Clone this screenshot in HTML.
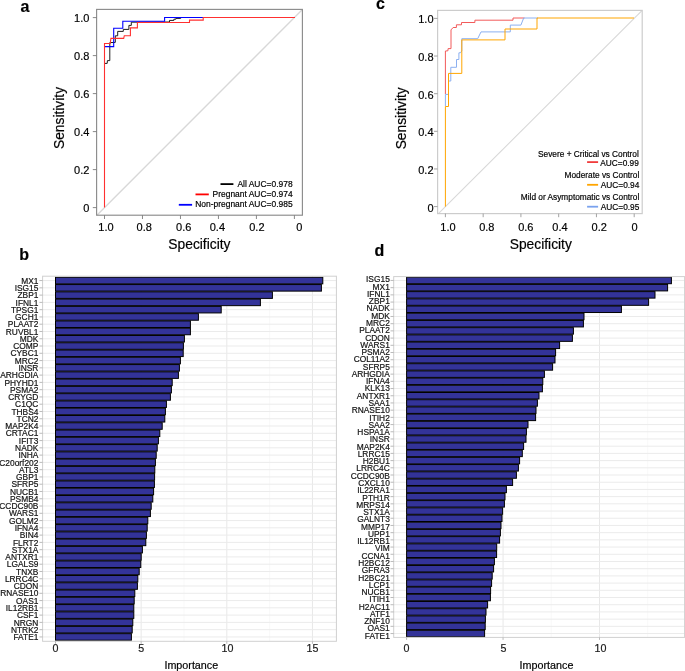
<!DOCTYPE html>
<html><head><meta charset="utf-8"><title>Figure</title>
<style>
html,body{margin:0;padding:0;background:#fff;}
body{width:685px;height:671px;overflow:hidden;}
svg{display:block;font-family:"Liberation Sans", sans-serif;will-change:transform;}
text{stroke:currentColor;stroke-width:0.18px;paint-order:stroke;}
</style></head>
<body>
<svg width="685" height="671" viewBox="0 0 685 671">
<rect x="0" y="0" width="685" height="671" fill="#fff"/>
<line x1="96.9" y1="215.2" x2="302.4" y2="9.6" stroke="#d8d8d8" stroke-width="1.35"/>
<polyline points="104.5,63.4 107.2,63.4 107.4,60.6 109.8,60.6 109.8,42.6 115.3,42.4 115.3,35.8 117.7,35.8 117.7,31.4 123.3,31.4 123.3,29.4 128.9,29.4 128.9,25.4 131.3,25.4 131.3,22.2 169.5,22 169.5,20.4 173.9,20.4 173.9,19.2 175.9,19.2 175.9,18.4 180.7,18.4 180.7,17.5 204,17.5" fill="none" stroke="#1e1e1e" stroke-width="1" stroke-opacity="1" stroke-linejoin="miter"/>
<polyline points="104.5,46.6 113.7,46.6 113.7,28.3 122.8,28.3 122.8,21.2 164.6,21.2 164.6,17.5 204,17.5" fill="none" stroke="#0000ff" stroke-width="1.1" stroke-opacity="1" stroke-linejoin="miter"/>
<polyline points="104.5,207.6 104.5,43.5 110.2,43.5 110.9,38.4 123.7,38.4 124.3,35.7 130.4,35.7 130.4,27.9 137.4,27.9 137.4,22.5 189.5,22.5 189.5,20.1 203.2,20.1 203.2,17.5 295,17.5" fill="none" stroke="#ff3030" stroke-width="1.1" stroke-opacity="1" stroke-linejoin="miter"/>
<rect x="96.6" y="9.4" width="205.8" height="205.8" fill="none" stroke="#8c8c8c" stroke-width="1.15"/>
<line x1="92.8" y1="207.6" x2="96.6" y2="207.6" stroke="#7c7c7c" stroke-width="0.9"/>
<text x="89.4" y="211.9" font-size="11" text-anchor="end" fill="#000" font-weight="normal">0</text>
<line x1="92.8" y1="169.6" x2="96.6" y2="169.6" stroke="#7c7c7c" stroke-width="0.9"/>
<text x="89.4" y="173.9" font-size="11" text-anchor="end" fill="#000" font-weight="normal">0.2</text>
<line x1="92.8" y1="131.6" x2="96.6" y2="131.6" stroke="#7c7c7c" stroke-width="0.9"/>
<text x="89.4" y="135.9" font-size="11" text-anchor="end" fill="#000" font-weight="normal">0.4</text>
<line x1="92.8" y1="93.6" x2="96.6" y2="93.6" stroke="#7c7c7c" stroke-width="0.9"/>
<text x="89.4" y="97.9" font-size="11" text-anchor="end" fill="#000" font-weight="normal">0.6</text>
<line x1="92.8" y1="55.6" x2="96.6" y2="55.6" stroke="#7c7c7c" stroke-width="0.9"/>
<text x="89.4" y="59.9" font-size="11" text-anchor="end" fill="#000" font-weight="normal">0.8</text>
<line x1="92.8" y1="17.6" x2="96.6" y2="17.6" stroke="#7c7c7c" stroke-width="0.9"/>
<text x="89.4" y="21.9" font-size="11" text-anchor="end" fill="#000" font-weight="normal">1.0</text>
<line x1="104.5" y1="215.2" x2="104.5" y2="219" stroke="#7c7c7c" stroke-width="0.9"/>
<text x="106" y="230.6" font-size="11" text-anchor="middle" fill="#000" font-weight="normal">1.0</text>
<line x1="142.48" y1="215.2" x2="142.48" y2="219" stroke="#7c7c7c" stroke-width="0.9"/>
<text x="144.2" y="230.6" font-size="11" text-anchor="middle" fill="#000" font-weight="normal">0.8</text>
<line x1="180.46" y1="215.2" x2="180.46" y2="219" stroke="#7c7c7c" stroke-width="0.9"/>
<text x="183.7" y="230.6" font-size="11" text-anchor="middle" fill="#000" font-weight="normal">0.6</text>
<line x1="218.44" y1="215.2" x2="218.44" y2="219" stroke="#7c7c7c" stroke-width="0.9"/>
<text x="217.4" y="230.6" font-size="11" text-anchor="middle" fill="#000" font-weight="normal">0.4</text>
<line x1="256.42" y1="215.2" x2="256.42" y2="219" stroke="#7c7c7c" stroke-width="0.9"/>
<text x="256.9" y="230.6" font-size="11" text-anchor="middle" fill="#000" font-weight="normal">0.2</text>
<line x1="294.4" y1="215.2" x2="294.4" y2="219" stroke="#7c7c7c" stroke-width="0.9"/>
<text x="299.4" y="230.6" font-size="11" text-anchor="middle" fill="#000" font-weight="normal">0</text>
<text x="199.4" y="249.2" font-size="13.8" text-anchor="middle" fill="#000" font-weight="normal">Specificity</text>
<text x="0" y="0" font-size="13.8" text-anchor="middle" fill="#000" transform="translate(63.9,118) rotate(-90)">Sensitivity</text>
<line x1="220.5" y1="184.1" x2="233.4" y2="184.1" stroke="#000000" stroke-width="1.8"/>
<text x="292.6" y="186.9" font-size="8.45" text-anchor="end" fill="#000" font-weight="normal">All AUC=0.978</text>
<line x1="195.5" y1="194.4" x2="208.8" y2="194.4" stroke="#ff0000" stroke-width="1.8"/>
<text x="292.6" y="196.9" font-size="8.45" text-anchor="end" fill="#000" font-weight="normal">Pregnant AUC=0.974</text>
<line x1="178.8" y1="204.8" x2="192.1" y2="204.8" stroke="#0000ff" stroke-width="1.8"/>
<text x="292.6" y="206.9" font-size="8.45" text-anchor="end" fill="#000" font-weight="normal">Non-pregnant AUC=0.985</text>
<text x="20.6" y="11.8" font-size="16" text-anchor="start" fill="#000" font-weight="bold">a</text>
<line x1="438.38" y1="213.6" x2="642.2" y2="10.43" stroke="#d8d8d8" stroke-width="1.15"/>
<polyline points="445.4,94 445.4,51 447.9,50.8 448.1,48.6 451,48.6 451,29.9 453.1,27.5 456.4,27.5 456.4,24.8 461.5,24.8 461.5,22.5 474.9,22.5 474.9,20.2 513,20.2 513,18 524.5,18" fill="none" stroke="#f25a5a" stroke-width="1" stroke-opacity="1" stroke-linejoin="miter"/>
<polyline points="445.4,106.2 445.4,94.4 448.5,94.4 448.5,81 450.8,81 450.8,67.3 456.5,67.3 456.5,59.5 458.9,59.5 458.9,52.8 460.3,52.8 461.8,51 461.8,38.7 477.7,38.7 481,31.9 510.3,31.9 510.3,25.1 520.9,25.1 523.7,18 538,18" fill="none" stroke="#8cb0f0" stroke-width="1" stroke-opacity="1" stroke-linejoin="miter"/>
<polyline points="445.4,206.6 445.4,106.5 448.5,106.5 448.5,73.4 461.8,73.4 461.8,39.9 505,39.9 505,29 537,29 537,18 634,18" fill="none" stroke="#ffa500" stroke-width="1" stroke-opacity="1" stroke-linejoin="miter"/>
<rect x="437.6" y="10.4" width="204.6" height="203.2" fill="none" stroke="#cccccc" stroke-width="1.2"/>
<line x1="434" y1="206.6" x2="437.6" y2="206.6" stroke="#999999" stroke-width="0.9"/>
<text x="433.5" y="211.5" font-size="11" text-anchor="end" fill="#000" font-weight="normal">0</text>
<line x1="434" y1="168.96" x2="437.6" y2="168.96" stroke="#999999" stroke-width="0.9"/>
<text x="433.5" y="173.86" font-size="11" text-anchor="end" fill="#000" font-weight="normal">0.2</text>
<line x1="434" y1="131.32" x2="437.6" y2="131.32" stroke="#999999" stroke-width="0.9"/>
<text x="433.5" y="136.22" font-size="11" text-anchor="end" fill="#000" font-weight="normal">0.4</text>
<line x1="434" y1="93.68" x2="437.6" y2="93.68" stroke="#999999" stroke-width="0.9"/>
<text x="433.5" y="98.58" font-size="11" text-anchor="end" fill="#000" font-weight="normal">0.6</text>
<line x1="434" y1="56.04" x2="437.6" y2="56.04" stroke="#999999" stroke-width="0.9"/>
<text x="433.5" y="60.94" font-size="11" text-anchor="end" fill="#000" font-weight="normal">0.8</text>
<line x1="434" y1="18.4" x2="437.6" y2="18.4" stroke="#999999" stroke-width="0.9"/>
<text x="433.5" y="23.3" font-size="11" text-anchor="end" fill="#000" font-weight="normal">1.0</text>
<line x1="445.4" y1="213.6" x2="445.4" y2="217.2" stroke="#999999" stroke-width="0.9"/>
<text x="448" y="230.5" font-size="11" text-anchor="middle" fill="#000" font-weight="normal">1.0</text>
<line x1="483.16" y1="213.6" x2="483.16" y2="217.2" stroke="#999999" stroke-width="0.9"/>
<text x="486.8" y="230.5" font-size="11" text-anchor="middle" fill="#000" font-weight="normal">0.8</text>
<line x1="520.92" y1="213.6" x2="520.92" y2="217.2" stroke="#999999" stroke-width="0.9"/>
<text x="525.8" y="230.5" font-size="11" text-anchor="middle" fill="#000" font-weight="normal">0.6</text>
<line x1="558.68" y1="213.6" x2="558.68" y2="217.2" stroke="#999999" stroke-width="0.9"/>
<text x="560" y="230.5" font-size="11" text-anchor="middle" fill="#000" font-weight="normal">0.4</text>
<line x1="596.44" y1="213.6" x2="596.44" y2="217.2" stroke="#999999" stroke-width="0.9"/>
<text x="599.2" y="230.5" font-size="11" text-anchor="middle" fill="#000" font-weight="normal">0.2</text>
<line x1="634.2" y1="213.6" x2="634.2" y2="217.2" stroke="#999999" stroke-width="0.9"/>
<text x="634.5" y="230.5" font-size="11" text-anchor="middle" fill="#000" font-weight="normal">0</text>
<text x="540.8" y="249.2" font-size="13.8" text-anchor="middle" fill="#000" font-weight="normal">Specificity</text>
<text x="0" y="0" font-size="13.8" text-anchor="middle" fill="#000" transform="translate(405.9,118.3) rotate(-90)">Sensitivity</text>
<text x="638.8" y="156.8" font-size="8.3" text-anchor="end" fill="#000" font-weight="normal">Severe + Critical vs Control</text>
<line x1="587.1" y1="162.1" x2="598.1" y2="162.1" stroke="#f03c3c" stroke-width="1.8"/>
<text x="638.8" y="166.4" font-size="8.3" text-anchor="end" fill="#000" font-weight="normal">AUC=0.99</text>
<text x="639.3" y="178.3" font-size="8.3" text-anchor="end" fill="#000" font-weight="normal">Moderate vs Control</text>
<line x1="587.1" y1="184.8" x2="598.1" y2="184.8" stroke="#ffa500" stroke-width="1.8"/>
<text x="639.3" y="188.4" font-size="8.3" text-anchor="end" fill="#000" font-weight="normal">AUC=0.94</text>
<text x="639.3" y="199.7" font-size="8.3" text-anchor="end" fill="#000" font-weight="normal">Mild or Asymptomatic vs Control</text>
<line x1="587.1" y1="206.7" x2="598.1" y2="206.7" stroke="#7aa2ee" stroke-width="1.8"/>
<text x="639.3" y="209.6" font-size="8.3" text-anchor="end" fill="#000" font-weight="normal">AUC=0.95</text>
<text x="376" y="9.2" font-size="16" text-anchor="start" fill="#000" font-weight="bold">c</text>
<rect x="42.6" y="276.2" width="293.8" height="365.1" fill="#fff"/>
<line x1="98.32" y1="276.2" x2="98.32" y2="641.3" stroke="#f3f3f3" stroke-width="0.55"/>
<line x1="183.97" y1="276.2" x2="183.97" y2="641.3" stroke="#f3f3f3" stroke-width="0.55"/>
<line x1="269.62" y1="276.2" x2="269.62" y2="641.3" stroke="#f3f3f3" stroke-width="0.55"/>
<line x1="55.5" y1="276.2" x2="55.5" y2="641.3" stroke="#e8e8e8" stroke-width="1"/>
<line x1="141.15" y1="276.2" x2="141.15" y2="641.3" stroke="#e8e8e8" stroke-width="1"/>
<line x1="226.8" y1="276.2" x2="226.8" y2="641.3" stroke="#e8e8e8" stroke-width="1"/>
<line x1="312.45" y1="276.2" x2="312.45" y2="641.3" stroke="#e8e8e8" stroke-width="1"/>
<line x1="42.6" y1="280.56" x2="336.4" y2="280.56" stroke="#ebebeb" stroke-width="1"/>
<line x1="42.6" y1="287.84" x2="336.4" y2="287.84" stroke="#ebebeb" stroke-width="1"/>
<line x1="42.6" y1="295.11" x2="336.4" y2="295.11" stroke="#ebebeb" stroke-width="1"/>
<line x1="42.6" y1="302.38" x2="336.4" y2="302.38" stroke="#ebebeb" stroke-width="1"/>
<line x1="42.6" y1="309.66" x2="336.4" y2="309.66" stroke="#ebebeb" stroke-width="1"/>
<line x1="42.6" y1="316.93" x2="336.4" y2="316.93" stroke="#ebebeb" stroke-width="1"/>
<line x1="42.6" y1="324.2" x2="336.4" y2="324.2" stroke="#ebebeb" stroke-width="1"/>
<line x1="42.6" y1="331.47" x2="336.4" y2="331.47" stroke="#ebebeb" stroke-width="1"/>
<line x1="42.6" y1="338.75" x2="336.4" y2="338.75" stroke="#ebebeb" stroke-width="1"/>
<line x1="42.6" y1="346.02" x2="336.4" y2="346.02" stroke="#ebebeb" stroke-width="1"/>
<line x1="42.6" y1="353.29" x2="336.4" y2="353.29" stroke="#ebebeb" stroke-width="1"/>
<line x1="42.6" y1="360.57" x2="336.4" y2="360.57" stroke="#ebebeb" stroke-width="1"/>
<line x1="42.6" y1="367.84" x2="336.4" y2="367.84" stroke="#ebebeb" stroke-width="1"/>
<line x1="42.6" y1="375.11" x2="336.4" y2="375.11" stroke="#ebebeb" stroke-width="1"/>
<line x1="42.6" y1="382.38" x2="336.4" y2="382.38" stroke="#ebebeb" stroke-width="1"/>
<line x1="42.6" y1="389.66" x2="336.4" y2="389.66" stroke="#ebebeb" stroke-width="1"/>
<line x1="42.6" y1="396.93" x2="336.4" y2="396.93" stroke="#ebebeb" stroke-width="1"/>
<line x1="42.6" y1="404.2" x2="336.4" y2="404.2" stroke="#ebebeb" stroke-width="1"/>
<line x1="42.6" y1="411.48" x2="336.4" y2="411.48" stroke="#ebebeb" stroke-width="1"/>
<line x1="42.6" y1="418.75" x2="336.4" y2="418.75" stroke="#ebebeb" stroke-width="1"/>
<line x1="42.6" y1="426.02" x2="336.4" y2="426.02" stroke="#ebebeb" stroke-width="1"/>
<line x1="42.6" y1="433.29" x2="336.4" y2="433.29" stroke="#ebebeb" stroke-width="1"/>
<line x1="42.6" y1="440.57" x2="336.4" y2="440.57" stroke="#ebebeb" stroke-width="1"/>
<line x1="42.6" y1="447.84" x2="336.4" y2="447.84" stroke="#ebebeb" stroke-width="1"/>
<line x1="42.6" y1="455.11" x2="336.4" y2="455.11" stroke="#ebebeb" stroke-width="1"/>
<line x1="42.6" y1="462.39" x2="336.4" y2="462.39" stroke="#ebebeb" stroke-width="1"/>
<line x1="42.6" y1="469.66" x2="336.4" y2="469.66" stroke="#ebebeb" stroke-width="1"/>
<line x1="42.6" y1="476.93" x2="336.4" y2="476.93" stroke="#ebebeb" stroke-width="1"/>
<line x1="42.6" y1="484.21" x2="336.4" y2="484.21" stroke="#ebebeb" stroke-width="1"/>
<line x1="42.6" y1="491.48" x2="336.4" y2="491.48" stroke="#ebebeb" stroke-width="1"/>
<line x1="42.6" y1="498.75" x2="336.4" y2="498.75" stroke="#ebebeb" stroke-width="1"/>
<line x1="42.6" y1="506.02" x2="336.4" y2="506.02" stroke="#ebebeb" stroke-width="1"/>
<line x1="42.6" y1="513.3" x2="336.4" y2="513.3" stroke="#ebebeb" stroke-width="1"/>
<line x1="42.6" y1="520.57" x2="336.4" y2="520.57" stroke="#ebebeb" stroke-width="1"/>
<line x1="42.6" y1="527.84" x2="336.4" y2="527.84" stroke="#ebebeb" stroke-width="1"/>
<line x1="42.6" y1="535.12" x2="336.4" y2="535.12" stroke="#ebebeb" stroke-width="1"/>
<line x1="42.6" y1="542.39" x2="336.4" y2="542.39" stroke="#ebebeb" stroke-width="1"/>
<line x1="42.6" y1="549.66" x2="336.4" y2="549.66" stroke="#ebebeb" stroke-width="1"/>
<line x1="42.6" y1="556.93" x2="336.4" y2="556.93" stroke="#ebebeb" stroke-width="1"/>
<line x1="42.6" y1="564.21" x2="336.4" y2="564.21" stroke="#ebebeb" stroke-width="1"/>
<line x1="42.6" y1="571.48" x2="336.4" y2="571.48" stroke="#ebebeb" stroke-width="1"/>
<line x1="42.6" y1="578.75" x2="336.4" y2="578.75" stroke="#ebebeb" stroke-width="1"/>
<line x1="42.6" y1="586.03" x2="336.4" y2="586.03" stroke="#ebebeb" stroke-width="1"/>
<line x1="42.6" y1="593.3" x2="336.4" y2="593.3" stroke="#ebebeb" stroke-width="1"/>
<line x1="42.6" y1="600.57" x2="336.4" y2="600.57" stroke="#ebebeb" stroke-width="1"/>
<line x1="42.6" y1="607.84" x2="336.4" y2="607.84" stroke="#ebebeb" stroke-width="1"/>
<line x1="42.6" y1="615.12" x2="336.4" y2="615.12" stroke="#ebebeb" stroke-width="1"/>
<line x1="42.6" y1="622.39" x2="336.4" y2="622.39" stroke="#ebebeb" stroke-width="1"/>
<line x1="42.6" y1="629.66" x2="336.4" y2="629.66" stroke="#ebebeb" stroke-width="1"/>
<line x1="42.6" y1="636.94" x2="336.4" y2="636.94" stroke="#ebebeb" stroke-width="1"/>
<rect x="55.5" y="277.29" width="267.3" height="6.55" fill="#333399" stroke="#000" stroke-width="1"/>
<rect x="55.5" y="284.56" width="265.9" height="6.55" fill="#333399" stroke="#000" stroke-width="1"/>
<rect x="55.5" y="291.84" width="216.9" height="6.55" fill="#333399" stroke="#000" stroke-width="1"/>
<rect x="55.5" y="299.11" width="204.9" height="6.55" fill="#333399" stroke="#000" stroke-width="1"/>
<rect x="55.5" y="306.38" width="165.7" height="6.55" fill="#333399" stroke="#000" stroke-width="1"/>
<rect x="55.5" y="313.66" width="142.9" height="6.55" fill="#333399" stroke="#000" stroke-width="1"/>
<rect x="55.5" y="320.93" width="134.9" height="6.55" fill="#333399" stroke="#000" stroke-width="1"/>
<rect x="55.5" y="328.2" width="134.9" height="6.55" fill="#333399" stroke="#000" stroke-width="1"/>
<rect x="55.5" y="335.47" width="128.9" height="6.55" fill="#333399" stroke="#000" stroke-width="1"/>
<rect x="55.5" y="342.75" width="127.9" height="6.55" fill="#333399" stroke="#000" stroke-width="1"/>
<rect x="55.5" y="350.02" width="127.7" height="6.55" fill="#333399" stroke="#000" stroke-width="1"/>
<rect x="55.5" y="357.29" width="124.9" height="6.55" fill="#333399" stroke="#000" stroke-width="1"/>
<rect x="55.5" y="364.57" width="123.9" height="6.55" fill="#333399" stroke="#000" stroke-width="1"/>
<rect x="55.5" y="371.84" width="122.9" height="6.55" fill="#333399" stroke="#000" stroke-width="1"/>
<rect x="55.5" y="379.11" width="116.7" height="6.55" fill="#333399" stroke="#000" stroke-width="1"/>
<rect x="55.5" y="386.38" width="115.9" height="6.55" fill="#333399" stroke="#000" stroke-width="1"/>
<rect x="55.5" y="393.66" width="114.9" height="6.55" fill="#333399" stroke="#000" stroke-width="1"/>
<rect x="55.5" y="400.93" width="110.9" height="6.55" fill="#333399" stroke="#000" stroke-width="1"/>
<rect x="55.5" y="408.2" width="109.9" height="6.55" fill="#333399" stroke="#000" stroke-width="1"/>
<rect x="55.5" y="415.48" width="109.3" height="6.55" fill="#333399" stroke="#000" stroke-width="1"/>
<rect x="55.5" y="422.75" width="106.7" height="6.55" fill="#333399" stroke="#000" stroke-width="1"/>
<rect x="55.5" y="430.02" width="104.3" height="6.55" fill="#333399" stroke="#000" stroke-width="1"/>
<rect x="55.5" y="437.29" width="102.9" height="6.55" fill="#333399" stroke="#000" stroke-width="1"/>
<rect x="55.5" y="444.57" width="101.7" height="6.55" fill="#333399" stroke="#000" stroke-width="1"/>
<rect x="55.5" y="451.84" width="100.7" height="6.55" fill="#333399" stroke="#000" stroke-width="1"/>
<rect x="55.5" y="459.11" width="99.9" height="6.55" fill="#333399" stroke="#000" stroke-width="1"/>
<rect x="55.5" y="466.39" width="99.3" height="6.55" fill="#333399" stroke="#000" stroke-width="1"/>
<rect x="55.5" y="473.66" width="99.1" height="6.55" fill="#333399" stroke="#000" stroke-width="1"/>
<rect x="55.5" y="480.93" width="98.9" height="6.55" fill="#333399" stroke="#000" stroke-width="1"/>
<rect x="55.5" y="488.21" width="98.1" height="6.55" fill="#333399" stroke="#000" stroke-width="1"/>
<rect x="55.5" y="495.48" width="97.3" height="6.55" fill="#333399" stroke="#000" stroke-width="1"/>
<rect x="55.5" y="502.75" width="95.7" height="6.55" fill="#333399" stroke="#000" stroke-width="1"/>
<rect x="55.5" y="510.02" width="94.9" height="6.55" fill="#333399" stroke="#000" stroke-width="1"/>
<rect x="55.5" y="517.3" width="92.3" height="6.55" fill="#333399" stroke="#000" stroke-width="1"/>
<rect x="55.5" y="524.57" width="91.7" height="6.55" fill="#333399" stroke="#000" stroke-width="1"/>
<rect x="55.5" y="531.84" width="90.9" height="6.55" fill="#333399" stroke="#000" stroke-width="1"/>
<rect x="55.5" y="539.12" width="90.3" height="6.55" fill="#333399" stroke="#000" stroke-width="1"/>
<rect x="55.5" y="546.39" width="86.9" height="6.55" fill="#333399" stroke="#000" stroke-width="1"/>
<rect x="55.5" y="553.66" width="85.7" height="6.55" fill="#333399" stroke="#000" stroke-width="1"/>
<rect x="55.5" y="560.93" width="85.3" height="6.55" fill="#333399" stroke="#000" stroke-width="1"/>
<rect x="55.5" y="568.21" width="83.7" height="6.55" fill="#333399" stroke="#000" stroke-width="1"/>
<rect x="55.5" y="575.48" width="82.3" height="6.55" fill="#333399" stroke="#000" stroke-width="1"/>
<rect x="55.5" y="582.75" width="81.9" height="6.55" fill="#333399" stroke="#000" stroke-width="1"/>
<rect x="55.5" y="590.03" width="79.3" height="6.55" fill="#333399" stroke="#000" stroke-width="1"/>
<rect x="55.5" y="597.3" width="78.7" height="6.55" fill="#333399" stroke="#000" stroke-width="1"/>
<rect x="55.5" y="604.57" width="78.3" height="6.55" fill="#333399" stroke="#000" stroke-width="1"/>
<rect x="55.5" y="611.84" width="78.3" height="6.55" fill="#333399" stroke="#000" stroke-width="1"/>
<rect x="55.5" y="619.12" width="77.3" height="6.55" fill="#333399" stroke="#000" stroke-width="1"/>
<rect x="55.5" y="626.39" width="76.7" height="6.55" fill="#333399" stroke="#000" stroke-width="1"/>
<rect x="55.5" y="633.66" width="75.9" height="6.55" fill="#333399" stroke="#000" stroke-width="1"/>
<rect x="42.6" y="276.2" width="293.8" height="365.1" fill="none" stroke="#d0d0d0" stroke-width="1"/>
<line x1="39.4" y1="280.56" x2="42.6" y2="280.56" stroke="#b3b3b3" stroke-width="0.9"/>
<text x="38.4" y="283.71" font-size="8.4" text-anchor="end" fill="#141414" font-weight="normal">MX1</text>
<line x1="39.4" y1="287.84" x2="42.6" y2="287.84" stroke="#b3b3b3" stroke-width="0.9"/>
<text x="38.4" y="290.99" font-size="8.4" text-anchor="end" fill="#141414" font-weight="normal">ISG15</text>
<line x1="39.4" y1="295.11" x2="42.6" y2="295.11" stroke="#b3b3b3" stroke-width="0.9"/>
<text x="38.4" y="298.26" font-size="8.4" text-anchor="end" fill="#141414" font-weight="normal">ZBP1</text>
<line x1="39.4" y1="302.38" x2="42.6" y2="302.38" stroke="#b3b3b3" stroke-width="0.9"/>
<text x="38.4" y="305.53" font-size="8.4" text-anchor="end" fill="#141414" font-weight="normal">IFNL1</text>
<line x1="39.4" y1="309.66" x2="42.6" y2="309.66" stroke="#b3b3b3" stroke-width="0.9"/>
<text x="38.4" y="312.81" font-size="8.4" text-anchor="end" fill="#141414" font-weight="normal">TPSG1</text>
<line x1="39.4" y1="316.93" x2="42.6" y2="316.93" stroke="#b3b3b3" stroke-width="0.9"/>
<text x="38.4" y="320.08" font-size="8.4" text-anchor="end" fill="#141414" font-weight="normal">GCH1</text>
<line x1="39.4" y1="324.2" x2="42.6" y2="324.2" stroke="#b3b3b3" stroke-width="0.9"/>
<text x="38.4" y="327.35" font-size="8.4" text-anchor="end" fill="#141414" font-weight="normal">PLAAT2</text>
<line x1="39.4" y1="331.47" x2="42.6" y2="331.47" stroke="#b3b3b3" stroke-width="0.9"/>
<text x="38.4" y="334.62" font-size="8.4" text-anchor="end" fill="#141414" font-weight="normal">RUVBL1</text>
<line x1="39.4" y1="338.75" x2="42.6" y2="338.75" stroke="#b3b3b3" stroke-width="0.9"/>
<text x="38.4" y="341.9" font-size="8.4" text-anchor="end" fill="#141414" font-weight="normal">MDK</text>
<line x1="39.4" y1="346.02" x2="42.6" y2="346.02" stroke="#b3b3b3" stroke-width="0.9"/>
<text x="38.4" y="349.17" font-size="8.4" text-anchor="end" fill="#141414" font-weight="normal">COMP</text>
<line x1="39.4" y1="353.29" x2="42.6" y2="353.29" stroke="#b3b3b3" stroke-width="0.9"/>
<text x="38.4" y="356.44" font-size="8.4" text-anchor="end" fill="#141414" font-weight="normal">CYBC1</text>
<line x1="39.4" y1="360.57" x2="42.6" y2="360.57" stroke="#b3b3b3" stroke-width="0.9"/>
<text x="38.4" y="363.72" font-size="8.4" text-anchor="end" fill="#141414" font-weight="normal">MRC2</text>
<line x1="39.4" y1="367.84" x2="42.6" y2="367.84" stroke="#b3b3b3" stroke-width="0.9"/>
<text x="38.4" y="370.99" font-size="8.4" text-anchor="end" fill="#141414" font-weight="normal">INSR</text>
<line x1="39.4" y1="375.11" x2="42.6" y2="375.11" stroke="#b3b3b3" stroke-width="0.9"/>
<text x="38.4" y="378.26" font-size="8.4" text-anchor="end" fill="#141414" font-weight="normal">ARHGDIA</text>
<line x1="39.4" y1="382.38" x2="42.6" y2="382.38" stroke="#b3b3b3" stroke-width="0.9"/>
<text x="38.4" y="385.53" font-size="8.4" text-anchor="end" fill="#141414" font-weight="normal">PHYHD1</text>
<line x1="39.4" y1="389.66" x2="42.6" y2="389.66" stroke="#b3b3b3" stroke-width="0.9"/>
<text x="38.4" y="392.81" font-size="8.4" text-anchor="end" fill="#141414" font-weight="normal">PSMA2</text>
<line x1="39.4" y1="396.93" x2="42.6" y2="396.93" stroke="#b3b3b3" stroke-width="0.9"/>
<text x="38.4" y="400.08" font-size="8.4" text-anchor="end" fill="#141414" font-weight="normal">CRYGD</text>
<line x1="39.4" y1="404.2" x2="42.6" y2="404.2" stroke="#b3b3b3" stroke-width="0.9"/>
<text x="38.4" y="407.35" font-size="8.4" text-anchor="end" fill="#141414" font-weight="normal">C1QC</text>
<line x1="39.4" y1="411.48" x2="42.6" y2="411.48" stroke="#b3b3b3" stroke-width="0.9"/>
<text x="38.4" y="414.63" font-size="8.4" text-anchor="end" fill="#141414" font-weight="normal">THBS4</text>
<line x1="39.4" y1="418.75" x2="42.6" y2="418.75" stroke="#b3b3b3" stroke-width="0.9"/>
<text x="38.4" y="421.9" font-size="8.4" text-anchor="end" fill="#141414" font-weight="normal">TCN2</text>
<line x1="39.4" y1="426.02" x2="42.6" y2="426.02" stroke="#b3b3b3" stroke-width="0.9"/>
<text x="38.4" y="429.17" font-size="8.4" text-anchor="end" fill="#141414" font-weight="normal">MAP2K4</text>
<line x1="39.4" y1="433.29" x2="42.6" y2="433.29" stroke="#b3b3b3" stroke-width="0.9"/>
<text x="38.4" y="436.44" font-size="8.4" text-anchor="end" fill="#141414" font-weight="normal">CRTAC1</text>
<line x1="39.4" y1="440.57" x2="42.6" y2="440.57" stroke="#b3b3b3" stroke-width="0.9"/>
<text x="38.4" y="443.72" font-size="8.4" text-anchor="end" fill="#141414" font-weight="normal">IFIT3</text>
<line x1="39.4" y1="447.84" x2="42.6" y2="447.84" stroke="#b3b3b3" stroke-width="0.9"/>
<text x="38.4" y="450.99" font-size="8.4" text-anchor="end" fill="#141414" font-weight="normal">NADK</text>
<line x1="39.4" y1="455.11" x2="42.6" y2="455.11" stroke="#b3b3b3" stroke-width="0.9"/>
<text x="38.4" y="458.26" font-size="8.4" text-anchor="end" fill="#141414" font-weight="normal">INHA</text>
<line x1="39.4" y1="462.39" x2="42.6" y2="462.39" stroke="#b3b3b3" stroke-width="0.9"/>
<text x="38.4" y="465.54" font-size="8.4" text-anchor="end" fill="#141414" font-weight="normal">C20orf202</text>
<line x1="39.4" y1="469.66" x2="42.6" y2="469.66" stroke="#b3b3b3" stroke-width="0.9"/>
<text x="38.4" y="472.81" font-size="8.4" text-anchor="end" fill="#141414" font-weight="normal">ATL3</text>
<line x1="39.4" y1="476.93" x2="42.6" y2="476.93" stroke="#b3b3b3" stroke-width="0.9"/>
<text x="38.4" y="480.08" font-size="8.4" text-anchor="end" fill="#141414" font-weight="normal">GBP1</text>
<line x1="39.4" y1="484.21" x2="42.6" y2="484.21" stroke="#b3b3b3" stroke-width="0.9"/>
<text x="38.4" y="487.36" font-size="8.4" text-anchor="end" fill="#141414" font-weight="normal">SFRP5</text>
<line x1="39.4" y1="491.48" x2="42.6" y2="491.48" stroke="#b3b3b3" stroke-width="0.9"/>
<text x="38.4" y="494.63" font-size="8.4" text-anchor="end" fill="#141414" font-weight="normal">NUCB1</text>
<line x1="39.4" y1="498.75" x2="42.6" y2="498.75" stroke="#b3b3b3" stroke-width="0.9"/>
<text x="38.4" y="501.9" font-size="8.4" text-anchor="end" fill="#141414" font-weight="normal">PSMB4</text>
<line x1="39.4" y1="506.02" x2="42.6" y2="506.02" stroke="#b3b3b3" stroke-width="0.9"/>
<text x="38.4" y="509.17" font-size="8.4" text-anchor="end" fill="#141414" font-weight="normal">CCDC90B</text>
<line x1="39.4" y1="513.3" x2="42.6" y2="513.3" stroke="#b3b3b3" stroke-width="0.9"/>
<text x="38.4" y="516.45" font-size="8.4" text-anchor="end" fill="#141414" font-weight="normal">WARS1</text>
<line x1="39.4" y1="520.57" x2="42.6" y2="520.57" stroke="#b3b3b3" stroke-width="0.9"/>
<text x="38.4" y="523.72" font-size="8.4" text-anchor="end" fill="#141414" font-weight="normal">GOLM2</text>
<line x1="39.4" y1="527.84" x2="42.6" y2="527.84" stroke="#b3b3b3" stroke-width="0.9"/>
<text x="38.4" y="530.99" font-size="8.4" text-anchor="end" fill="#141414" font-weight="normal">IFNA4</text>
<line x1="39.4" y1="535.12" x2="42.6" y2="535.12" stroke="#b3b3b3" stroke-width="0.9"/>
<text x="38.4" y="538.27" font-size="8.4" text-anchor="end" fill="#141414" font-weight="normal">BIN4</text>
<line x1="39.4" y1="542.39" x2="42.6" y2="542.39" stroke="#b3b3b3" stroke-width="0.9"/>
<text x="38.4" y="545.54" font-size="8.4" text-anchor="end" fill="#141414" font-weight="normal">FLRT2</text>
<line x1="39.4" y1="549.66" x2="42.6" y2="549.66" stroke="#b3b3b3" stroke-width="0.9"/>
<text x="38.4" y="552.81" font-size="8.4" text-anchor="end" fill="#141414" font-weight="normal">STX1A</text>
<line x1="39.4" y1="556.93" x2="42.6" y2="556.93" stroke="#b3b3b3" stroke-width="0.9"/>
<text x="38.4" y="560.08" font-size="8.4" text-anchor="end" fill="#141414" font-weight="normal">ANTXR1</text>
<line x1="39.4" y1="564.21" x2="42.6" y2="564.21" stroke="#b3b3b3" stroke-width="0.9"/>
<text x="38.4" y="567.36" font-size="8.4" text-anchor="end" fill="#141414" font-weight="normal">LGALS9</text>
<line x1="39.4" y1="571.48" x2="42.6" y2="571.48" stroke="#b3b3b3" stroke-width="0.9"/>
<text x="38.4" y="574.63" font-size="8.4" text-anchor="end" fill="#141414" font-weight="normal">TNXB</text>
<line x1="39.4" y1="578.75" x2="42.6" y2="578.75" stroke="#b3b3b3" stroke-width="0.9"/>
<text x="38.4" y="581.9" font-size="8.4" text-anchor="end" fill="#141414" font-weight="normal">LRRC4C</text>
<line x1="39.4" y1="586.03" x2="42.6" y2="586.03" stroke="#b3b3b3" stroke-width="0.9"/>
<text x="38.4" y="589.18" font-size="8.4" text-anchor="end" fill="#141414" font-weight="normal">CDON</text>
<line x1="39.4" y1="593.3" x2="42.6" y2="593.3" stroke="#b3b3b3" stroke-width="0.9"/>
<text x="38.4" y="596.45" font-size="8.4" text-anchor="end" fill="#141414" font-weight="normal">RNASE10</text>
<line x1="39.4" y1="600.57" x2="42.6" y2="600.57" stroke="#b3b3b3" stroke-width="0.9"/>
<text x="38.4" y="603.72" font-size="8.4" text-anchor="end" fill="#141414" font-weight="normal">OAS1</text>
<line x1="39.4" y1="607.84" x2="42.6" y2="607.84" stroke="#b3b3b3" stroke-width="0.9"/>
<text x="38.4" y="610.99" font-size="8.4" text-anchor="end" fill="#141414" font-weight="normal">IL12RB1</text>
<line x1="39.4" y1="615.12" x2="42.6" y2="615.12" stroke="#b3b3b3" stroke-width="0.9"/>
<text x="38.4" y="618.27" font-size="8.4" text-anchor="end" fill="#141414" font-weight="normal">CSF1</text>
<line x1="39.4" y1="622.39" x2="42.6" y2="622.39" stroke="#b3b3b3" stroke-width="0.9"/>
<text x="38.4" y="625.54" font-size="8.4" text-anchor="end" fill="#141414" font-weight="normal">NRGN</text>
<line x1="39.4" y1="629.66" x2="42.6" y2="629.66" stroke="#b3b3b3" stroke-width="0.9"/>
<text x="38.4" y="632.81" font-size="8.4" text-anchor="end" fill="#141414" font-weight="normal">NTRK2</text>
<line x1="39.4" y1="636.94" x2="42.6" y2="636.94" stroke="#b3b3b3" stroke-width="0.9"/>
<text x="38.4" y="640.09" font-size="8.4" text-anchor="end" fill="#141414" font-weight="normal">FATE1</text>
<line x1="55.5" y1="641.3" x2="55.5" y2="643.8" stroke="#b3b3b3" stroke-width="0.9"/>
<text x="55.5" y="651.7" font-size="10.7" text-anchor="middle" fill="#1a1a1a" font-weight="normal">0</text>
<line x1="141.15" y1="641.3" x2="141.15" y2="643.8" stroke="#b3b3b3" stroke-width="0.9"/>
<text x="141.2" y="651.7" font-size="10.7" text-anchor="middle" fill="#1a1a1a" font-weight="normal">5</text>
<line x1="226.8" y1="641.3" x2="226.8" y2="643.8" stroke="#b3b3b3" stroke-width="0.9"/>
<text x="227.5" y="651.7" font-size="10.7" text-anchor="middle" fill="#1a1a1a" font-weight="normal">10</text>
<line x1="312.45" y1="641.3" x2="312.45" y2="643.8" stroke="#b3b3b3" stroke-width="0.9"/>
<text x="312.5" y="651.7" font-size="10.7" text-anchor="middle" fill="#1a1a1a" font-weight="normal">15</text>
<text x="191.3" y="668.8" font-size="10.75" text-anchor="middle" fill="#000" font-weight="normal">Importance</text>
<text x="19.2" y="259.7" font-size="16" text-anchor="start" fill="#000" font-weight="bold">b</text>
<rect x="393.7" y="276.6" width="290.9" height="360.8" fill="#fff"/>
<line x1="454.83" y1="276.6" x2="454.83" y2="637.4" stroke="#f3f3f3" stroke-width="0.55"/>
<line x1="551.27" y1="276.6" x2="551.27" y2="637.4" stroke="#f3f3f3" stroke-width="0.55"/>
<line x1="647.73" y1="276.6" x2="647.73" y2="637.4" stroke="#f3f3f3" stroke-width="0.55"/>
<line x1="406.6" y1="276.6" x2="406.6" y2="637.4" stroke="#e8e8e8" stroke-width="1"/>
<line x1="503.05" y1="276.6" x2="503.05" y2="637.4" stroke="#e8e8e8" stroke-width="1"/>
<line x1="599.5" y1="276.6" x2="599.5" y2="637.4" stroke="#e8e8e8" stroke-width="1"/>
<line x1="393.7" y1="280.45" x2="684.6" y2="280.45" stroke="#ebebeb" stroke-width="1"/>
<line x1="393.7" y1="287.66" x2="684.6" y2="287.66" stroke="#ebebeb" stroke-width="1"/>
<line x1="393.7" y1="294.86" x2="684.6" y2="294.86" stroke="#ebebeb" stroke-width="1"/>
<line x1="393.7" y1="302.07" x2="684.6" y2="302.07" stroke="#ebebeb" stroke-width="1"/>
<line x1="393.7" y1="309.27" x2="684.6" y2="309.27" stroke="#ebebeb" stroke-width="1"/>
<line x1="393.7" y1="316.48" x2="684.6" y2="316.48" stroke="#ebebeb" stroke-width="1"/>
<line x1="393.7" y1="323.69" x2="684.6" y2="323.69" stroke="#ebebeb" stroke-width="1"/>
<line x1="393.7" y1="330.89" x2="684.6" y2="330.89" stroke="#ebebeb" stroke-width="1"/>
<line x1="393.7" y1="338.1" x2="684.6" y2="338.1" stroke="#ebebeb" stroke-width="1"/>
<line x1="393.7" y1="345.3" x2="684.6" y2="345.3" stroke="#ebebeb" stroke-width="1"/>
<line x1="393.7" y1="352.51" x2="684.6" y2="352.51" stroke="#ebebeb" stroke-width="1"/>
<line x1="393.7" y1="359.72" x2="684.6" y2="359.72" stroke="#ebebeb" stroke-width="1"/>
<line x1="393.7" y1="366.92" x2="684.6" y2="366.92" stroke="#ebebeb" stroke-width="1"/>
<line x1="393.7" y1="374.13" x2="684.6" y2="374.13" stroke="#ebebeb" stroke-width="1"/>
<line x1="393.7" y1="381.33" x2="684.6" y2="381.33" stroke="#ebebeb" stroke-width="1"/>
<line x1="393.7" y1="388.54" x2="684.6" y2="388.54" stroke="#ebebeb" stroke-width="1"/>
<line x1="393.7" y1="395.75" x2="684.6" y2="395.75" stroke="#ebebeb" stroke-width="1"/>
<line x1="393.7" y1="402.95" x2="684.6" y2="402.95" stroke="#ebebeb" stroke-width="1"/>
<line x1="393.7" y1="410.16" x2="684.6" y2="410.16" stroke="#ebebeb" stroke-width="1"/>
<line x1="393.7" y1="417.36" x2="684.6" y2="417.36" stroke="#ebebeb" stroke-width="1"/>
<line x1="393.7" y1="424.57" x2="684.6" y2="424.57" stroke="#ebebeb" stroke-width="1"/>
<line x1="393.7" y1="431.78" x2="684.6" y2="431.78" stroke="#ebebeb" stroke-width="1"/>
<line x1="393.7" y1="438.98" x2="684.6" y2="438.98" stroke="#ebebeb" stroke-width="1"/>
<line x1="393.7" y1="446.19" x2="684.6" y2="446.19" stroke="#ebebeb" stroke-width="1"/>
<line x1="393.7" y1="453.39" x2="684.6" y2="453.39" stroke="#ebebeb" stroke-width="1"/>
<line x1="393.7" y1="460.6" x2="684.6" y2="460.6" stroke="#ebebeb" stroke-width="1"/>
<line x1="393.7" y1="467.81" x2="684.6" y2="467.81" stroke="#ebebeb" stroke-width="1"/>
<line x1="393.7" y1="475.01" x2="684.6" y2="475.01" stroke="#ebebeb" stroke-width="1"/>
<line x1="393.7" y1="482.22" x2="684.6" y2="482.22" stroke="#ebebeb" stroke-width="1"/>
<line x1="393.7" y1="489.42" x2="684.6" y2="489.42" stroke="#ebebeb" stroke-width="1"/>
<line x1="393.7" y1="496.63" x2="684.6" y2="496.63" stroke="#ebebeb" stroke-width="1"/>
<line x1="393.7" y1="503.84" x2="684.6" y2="503.84" stroke="#ebebeb" stroke-width="1"/>
<line x1="393.7" y1="511.04" x2="684.6" y2="511.04" stroke="#ebebeb" stroke-width="1"/>
<line x1="393.7" y1="518.25" x2="684.6" y2="518.25" stroke="#ebebeb" stroke-width="1"/>
<line x1="393.7" y1="525.45" x2="684.6" y2="525.45" stroke="#ebebeb" stroke-width="1"/>
<line x1="393.7" y1="532.66" x2="684.6" y2="532.66" stroke="#ebebeb" stroke-width="1"/>
<line x1="393.7" y1="539.87" x2="684.6" y2="539.87" stroke="#ebebeb" stroke-width="1"/>
<line x1="393.7" y1="547.07" x2="684.6" y2="547.07" stroke="#ebebeb" stroke-width="1"/>
<line x1="393.7" y1="554.28" x2="684.6" y2="554.28" stroke="#ebebeb" stroke-width="1"/>
<line x1="393.7" y1="561.48" x2="684.6" y2="561.48" stroke="#ebebeb" stroke-width="1"/>
<line x1="393.7" y1="568.69" x2="684.6" y2="568.69" stroke="#ebebeb" stroke-width="1"/>
<line x1="393.7" y1="575.9" x2="684.6" y2="575.9" stroke="#ebebeb" stroke-width="1"/>
<line x1="393.7" y1="583.1" x2="684.6" y2="583.1" stroke="#ebebeb" stroke-width="1"/>
<line x1="393.7" y1="590.31" x2="684.6" y2="590.31" stroke="#ebebeb" stroke-width="1"/>
<line x1="393.7" y1="597.51" x2="684.6" y2="597.51" stroke="#ebebeb" stroke-width="1"/>
<line x1="393.7" y1="604.72" x2="684.6" y2="604.72" stroke="#ebebeb" stroke-width="1"/>
<line x1="393.7" y1="611.93" x2="684.6" y2="611.93" stroke="#ebebeb" stroke-width="1"/>
<line x1="393.7" y1="619.13" x2="684.6" y2="619.13" stroke="#ebebeb" stroke-width="1"/>
<line x1="393.7" y1="626.34" x2="684.6" y2="626.34" stroke="#ebebeb" stroke-width="1"/>
<line x1="393.7" y1="633.54" x2="684.6" y2="633.54" stroke="#ebebeb" stroke-width="1"/>
<rect x="406.6" y="277.21" width="264.8" height="6.49" fill="#333399" stroke="#000" stroke-width="1"/>
<rect x="406.6" y="284.41" width="261" height="6.49" fill="#333399" stroke="#000" stroke-width="1"/>
<rect x="406.6" y="291.62" width="248.4" height="6.49" fill="#333399" stroke="#000" stroke-width="1"/>
<rect x="406.6" y="298.83" width="242" height="6.49" fill="#333399" stroke="#000" stroke-width="1"/>
<rect x="406.6" y="306.03" width="214.8" height="6.49" fill="#333399" stroke="#000" stroke-width="1"/>
<rect x="406.6" y="313.24" width="177.4" height="6.49" fill="#333399" stroke="#000" stroke-width="1"/>
<rect x="406.6" y="320.44" width="176.8" height="6.49" fill="#333399" stroke="#000" stroke-width="1"/>
<rect x="406.6" y="327.65" width="166.8" height="6.49" fill="#333399" stroke="#000" stroke-width="1"/>
<rect x="406.6" y="334.86" width="165.8" height="6.49" fill="#333399" stroke="#000" stroke-width="1"/>
<rect x="406.6" y="342.06" width="153" height="6.49" fill="#333399" stroke="#000" stroke-width="1"/>
<rect x="406.6" y="349.27" width="149" height="6.49" fill="#333399" stroke="#000" stroke-width="1"/>
<rect x="406.6" y="356.47" width="148.4" height="6.49" fill="#333399" stroke="#000" stroke-width="1"/>
<rect x="406.6" y="363.68" width="146" height="6.49" fill="#333399" stroke="#000" stroke-width="1"/>
<rect x="406.6" y="370.89" width="137.8" height="6.49" fill="#333399" stroke="#000" stroke-width="1"/>
<rect x="406.6" y="378.09" width="136.2" height="6.49" fill="#333399" stroke="#000" stroke-width="1"/>
<rect x="406.6" y="385.3" width="135.8" height="6.49" fill="#333399" stroke="#000" stroke-width="1"/>
<rect x="406.6" y="392.5" width="132.4" height="6.49" fill="#333399" stroke="#000" stroke-width="1"/>
<rect x="406.6" y="399.71" width="130.8" height="6.49" fill="#333399" stroke="#000" stroke-width="1"/>
<rect x="406.6" y="406.92" width="129.4" height="6.49" fill="#333399" stroke="#000" stroke-width="1"/>
<rect x="406.6" y="414.12" width="129" height="6.49" fill="#333399" stroke="#000" stroke-width="1"/>
<rect x="406.6" y="421.33" width="121.4" height="6.49" fill="#333399" stroke="#000" stroke-width="1"/>
<rect x="406.6" y="428.53" width="119.8" height="6.49" fill="#333399" stroke="#000" stroke-width="1"/>
<rect x="406.6" y="435.74" width="119.4" height="6.49" fill="#333399" stroke="#000" stroke-width="1"/>
<rect x="406.6" y="442.95" width="117" height="6.49" fill="#333399" stroke="#000" stroke-width="1"/>
<rect x="406.6" y="450.15" width="115.7" height="6.49" fill="#333399" stroke="#000" stroke-width="1"/>
<rect x="406.6" y="457.36" width="113" height="6.49" fill="#333399" stroke="#000" stroke-width="1"/>
<rect x="406.6" y="464.56" width="111.8" height="6.49" fill="#333399" stroke="#000" stroke-width="1"/>
<rect x="406.6" y="471.77" width="109.8" height="6.49" fill="#333399" stroke="#000" stroke-width="1"/>
<rect x="406.6" y="478.98" width="106" height="6.49" fill="#333399" stroke="#000" stroke-width="1"/>
<rect x="406.6" y="486.18" width="99.8" height="6.49" fill="#333399" stroke="#000" stroke-width="1"/>
<rect x="406.6" y="493.39" width="98.4" height="6.49" fill="#333399" stroke="#000" stroke-width="1"/>
<rect x="406.6" y="500.59" width="97.8" height="6.49" fill="#333399" stroke="#000" stroke-width="1"/>
<rect x="406.6" y="507.8" width="96" height="6.49" fill="#333399" stroke="#000" stroke-width="1"/>
<rect x="406.6" y="515.01" width="95.4" height="6.49" fill="#333399" stroke="#000" stroke-width="1"/>
<rect x="406.6" y="522.21" width="94.4" height="6.49" fill="#333399" stroke="#000" stroke-width="1"/>
<rect x="406.6" y="529.42" width="93.8" height="6.49" fill="#333399" stroke="#000" stroke-width="1"/>
<rect x="406.6" y="536.62" width="93" height="6.49" fill="#333399" stroke="#000" stroke-width="1"/>
<rect x="406.6" y="543.83" width="90.1" height="6.49" fill="#333399" stroke="#000" stroke-width="1"/>
<rect x="406.6" y="551.04" width="90" height="6.49" fill="#333399" stroke="#000" stroke-width="1"/>
<rect x="406.6" y="558.24" width="87.8" height="6.49" fill="#333399" stroke="#000" stroke-width="1"/>
<rect x="406.6" y="565.45" width="87" height="6.49" fill="#333399" stroke="#000" stroke-width="1"/>
<rect x="406.6" y="572.65" width="85.6" height="6.49" fill="#333399" stroke="#000" stroke-width="1"/>
<rect x="406.6" y="579.86" width="85" height="6.49" fill="#333399" stroke="#000" stroke-width="1"/>
<rect x="406.6" y="587.07" width="84" height="6.49" fill="#333399" stroke="#000" stroke-width="1"/>
<rect x="406.6" y="594.27" width="83.8" height="6.49" fill="#333399" stroke="#000" stroke-width="1"/>
<rect x="406.6" y="601.48" width="81" height="6.49" fill="#333399" stroke="#000" stroke-width="1"/>
<rect x="406.6" y="608.68" width="79.4" height="6.49" fill="#333399" stroke="#000" stroke-width="1"/>
<rect x="406.6" y="615.89" width="78.8" height="6.49" fill="#333399" stroke="#000" stroke-width="1"/>
<rect x="406.6" y="623.1" width="78.6" height="6.49" fill="#333399" stroke="#000" stroke-width="1"/>
<rect x="406.6" y="630.3" width="78" height="6.49" fill="#333399" stroke="#000" stroke-width="1"/>
<rect x="393.7" y="276.6" width="290.9" height="360.8" fill="none" stroke="#d0d0d0" stroke-width="1"/>
<line x1="390.5" y1="280.45" x2="393.7" y2="280.45" stroke="#b3b3b3" stroke-width="0.9"/>
<text x="389.8" y="282.35" font-size="8.4" text-anchor="end" fill="#141414" font-weight="normal">ISG15</text>
<line x1="390.5" y1="287.66" x2="393.7" y2="287.66" stroke="#b3b3b3" stroke-width="0.9"/>
<text x="389.8" y="289.62" font-size="8.4" text-anchor="end" fill="#141414" font-weight="normal">MX1</text>
<line x1="390.5" y1="294.86" x2="393.7" y2="294.86" stroke="#b3b3b3" stroke-width="0.9"/>
<text x="389.8" y="296.9" font-size="8.4" text-anchor="end" fill="#141414" font-weight="normal">IFNL1</text>
<line x1="390.5" y1="302.07" x2="393.7" y2="302.07" stroke="#b3b3b3" stroke-width="0.9"/>
<text x="389.8" y="304.17" font-size="8.4" text-anchor="end" fill="#141414" font-weight="normal">ZBP1</text>
<line x1="390.5" y1="309.27" x2="393.7" y2="309.27" stroke="#b3b3b3" stroke-width="0.9"/>
<text x="389.8" y="311.44" font-size="8.4" text-anchor="end" fill="#141414" font-weight="normal">NADK</text>
<line x1="390.5" y1="316.48" x2="393.7" y2="316.48" stroke="#b3b3b3" stroke-width="0.9"/>
<text x="389.8" y="318.71" font-size="8.4" text-anchor="end" fill="#141414" font-weight="normal">MDK</text>
<line x1="390.5" y1="323.69" x2="393.7" y2="323.69" stroke="#b3b3b3" stroke-width="0.9"/>
<text x="389.8" y="325.99" font-size="8.4" text-anchor="end" fill="#141414" font-weight="normal">MRC2</text>
<line x1="390.5" y1="330.89" x2="393.7" y2="330.89" stroke="#b3b3b3" stroke-width="0.9"/>
<text x="389.8" y="333.26" font-size="8.4" text-anchor="end" fill="#141414" font-weight="normal">PLAAT2</text>
<line x1="390.5" y1="338.1" x2="393.7" y2="338.1" stroke="#b3b3b3" stroke-width="0.9"/>
<text x="389.8" y="340.53" font-size="8.4" text-anchor="end" fill="#141414" font-weight="normal">CDON</text>
<line x1="390.5" y1="345.3" x2="393.7" y2="345.3" stroke="#b3b3b3" stroke-width="0.9"/>
<text x="389.8" y="347.81" font-size="8.4" text-anchor="end" fill="#141414" font-weight="normal">WARS1</text>
<line x1="390.5" y1="352.51" x2="393.7" y2="352.51" stroke="#b3b3b3" stroke-width="0.9"/>
<text x="389.8" y="355.08" font-size="8.4" text-anchor="end" fill="#141414" font-weight="normal">PSMA2</text>
<line x1="390.5" y1="359.72" x2="393.7" y2="359.72" stroke="#b3b3b3" stroke-width="0.9"/>
<text x="389.8" y="362.35" font-size="8.4" text-anchor="end" fill="#141414" font-weight="normal">COL11A2</text>
<line x1="390.5" y1="366.92" x2="393.7" y2="366.92" stroke="#b3b3b3" stroke-width="0.9"/>
<text x="389.8" y="369.63" font-size="8.4" text-anchor="end" fill="#141414" font-weight="normal">SFRP5</text>
<line x1="390.5" y1="374.13" x2="393.7" y2="374.13" stroke="#b3b3b3" stroke-width="0.9"/>
<text x="389.8" y="376.9" font-size="8.4" text-anchor="end" fill="#141414" font-weight="normal">ARHGDIA</text>
<line x1="390.5" y1="381.33" x2="393.7" y2="381.33" stroke="#b3b3b3" stroke-width="0.9"/>
<text x="389.8" y="384.17" font-size="8.4" text-anchor="end" fill="#141414" font-weight="normal">IFNA4</text>
<line x1="390.5" y1="388.54" x2="393.7" y2="388.54" stroke="#b3b3b3" stroke-width="0.9"/>
<text x="389.8" y="391.44" font-size="8.4" text-anchor="end" fill="#141414" font-weight="normal">KLK13</text>
<line x1="390.5" y1="395.75" x2="393.7" y2="395.75" stroke="#b3b3b3" stroke-width="0.9"/>
<text x="389.8" y="398.72" font-size="8.4" text-anchor="end" fill="#141414" font-weight="normal">ANTXR1</text>
<line x1="390.5" y1="402.95" x2="393.7" y2="402.95" stroke="#b3b3b3" stroke-width="0.9"/>
<text x="389.8" y="405.99" font-size="8.4" text-anchor="end" fill="#141414" font-weight="normal">SAA1</text>
<line x1="390.5" y1="410.16" x2="393.7" y2="410.16" stroke="#b3b3b3" stroke-width="0.9"/>
<text x="389.8" y="413.26" font-size="8.4" text-anchor="end" fill="#141414" font-weight="normal">RNASE10</text>
<line x1="390.5" y1="417.36" x2="393.7" y2="417.36" stroke="#b3b3b3" stroke-width="0.9"/>
<text x="389.8" y="420.54" font-size="8.4" text-anchor="end" fill="#141414" font-weight="normal">ITIH2</text>
<line x1="390.5" y1="424.57" x2="393.7" y2="424.57" stroke="#b3b3b3" stroke-width="0.9"/>
<text x="389.8" y="427.81" font-size="8.4" text-anchor="end" fill="#141414" font-weight="normal">SAA2</text>
<line x1="390.5" y1="431.78" x2="393.7" y2="431.78" stroke="#b3b3b3" stroke-width="0.9"/>
<text x="389.8" y="435.08" font-size="8.4" text-anchor="end" fill="#141414" font-weight="normal">HSPA1A</text>
<line x1="390.5" y1="438.98" x2="393.7" y2="438.98" stroke="#b3b3b3" stroke-width="0.9"/>
<text x="389.8" y="442.36" font-size="8.4" text-anchor="end" fill="#141414" font-weight="normal">INSR</text>
<line x1="390.5" y1="446.19" x2="393.7" y2="446.19" stroke="#b3b3b3" stroke-width="0.9"/>
<text x="389.8" y="449.63" font-size="8.4" text-anchor="end" fill="#141414" font-weight="normal">MAP2K4</text>
<line x1="390.5" y1="453.39" x2="393.7" y2="453.39" stroke="#b3b3b3" stroke-width="0.9"/>
<text x="389.8" y="456.9" font-size="8.4" text-anchor="end" fill="#141414" font-weight="normal">LRRC15</text>
<line x1="390.5" y1="460.6" x2="393.7" y2="460.6" stroke="#b3b3b3" stroke-width="0.9"/>
<text x="389.8" y="464.17" font-size="8.4" text-anchor="end" fill="#141414" font-weight="normal">H2BU1</text>
<line x1="390.5" y1="467.81" x2="393.7" y2="467.81" stroke="#b3b3b3" stroke-width="0.9"/>
<text x="389.8" y="471.45" font-size="8.4" text-anchor="end" fill="#141414" font-weight="normal">LRRC4C</text>
<line x1="390.5" y1="475.01" x2="393.7" y2="475.01" stroke="#b3b3b3" stroke-width="0.9"/>
<text x="389.8" y="478.72" font-size="8.4" text-anchor="end" fill="#141414" font-weight="normal">CCDC90B</text>
<line x1="390.5" y1="482.22" x2="393.7" y2="482.22" stroke="#b3b3b3" stroke-width="0.9"/>
<text x="389.8" y="485.99" font-size="8.4" text-anchor="end" fill="#141414" font-weight="normal">CXCL10</text>
<line x1="390.5" y1="489.42" x2="393.7" y2="489.42" stroke="#b3b3b3" stroke-width="0.9"/>
<text x="389.8" y="493.27" font-size="8.4" text-anchor="end" fill="#141414" font-weight="normal">IL22RA1</text>
<line x1="390.5" y1="496.63" x2="393.7" y2="496.63" stroke="#b3b3b3" stroke-width="0.9"/>
<text x="389.8" y="500.54" font-size="8.4" text-anchor="end" fill="#141414" font-weight="normal">PTH1R</text>
<line x1="390.5" y1="503.84" x2="393.7" y2="503.84" stroke="#b3b3b3" stroke-width="0.9"/>
<text x="389.8" y="507.81" font-size="8.4" text-anchor="end" fill="#141414" font-weight="normal">MRPS14</text>
<line x1="390.5" y1="511.04" x2="393.7" y2="511.04" stroke="#b3b3b3" stroke-width="0.9"/>
<text x="389.8" y="515.09" font-size="8.4" text-anchor="end" fill="#141414" font-weight="normal">STX1A</text>
<line x1="390.5" y1="518.25" x2="393.7" y2="518.25" stroke="#b3b3b3" stroke-width="0.9"/>
<text x="389.8" y="522.36" font-size="8.4" text-anchor="end" fill="#141414" font-weight="normal">GALNT3</text>
<line x1="390.5" y1="525.45" x2="393.7" y2="525.45" stroke="#b3b3b3" stroke-width="0.9"/>
<text x="389.8" y="529.63" font-size="8.4" text-anchor="end" fill="#141414" font-weight="normal">MMP17</text>
<line x1="390.5" y1="532.66" x2="393.7" y2="532.66" stroke="#b3b3b3" stroke-width="0.9"/>
<text x="389.8" y="536.9" font-size="8.4" text-anchor="end" fill="#141414" font-weight="normal">UPP1</text>
<line x1="390.5" y1="539.87" x2="393.7" y2="539.87" stroke="#b3b3b3" stroke-width="0.9"/>
<text x="389.8" y="544.18" font-size="8.4" text-anchor="end" fill="#141414" font-weight="normal">IL12RB1</text>
<line x1="390.5" y1="547.07" x2="393.7" y2="547.07" stroke="#b3b3b3" stroke-width="0.9"/>
<text x="389.8" y="551.45" font-size="8.4" text-anchor="end" fill="#141414" font-weight="normal">VIM</text>
<line x1="390.5" y1="554.28" x2="393.7" y2="554.28" stroke="#b3b3b3" stroke-width="0.9"/>
<text x="389.8" y="558.72" font-size="8.4" text-anchor="end" fill="#141414" font-weight="normal">CCNA1</text>
<line x1="390.5" y1="561.48" x2="393.7" y2="561.48" stroke="#b3b3b3" stroke-width="0.9"/>
<text x="389.8" y="566" font-size="8.4" text-anchor="end" fill="#141414" font-weight="normal">H2BC12</text>
<line x1="390.5" y1="568.69" x2="393.7" y2="568.69" stroke="#b3b3b3" stroke-width="0.9"/>
<text x="389.8" y="573.27" font-size="8.4" text-anchor="end" fill="#141414" font-weight="normal">GFRA3</text>
<line x1="390.5" y1="575.9" x2="393.7" y2="575.9" stroke="#b3b3b3" stroke-width="0.9"/>
<text x="389.8" y="580.54" font-size="8.4" text-anchor="end" fill="#141414" font-weight="normal">H2BC21</text>
<line x1="390.5" y1="583.1" x2="393.7" y2="583.1" stroke="#b3b3b3" stroke-width="0.9"/>
<text x="389.8" y="587.82" font-size="8.4" text-anchor="end" fill="#141414" font-weight="normal">LCP1</text>
<line x1="390.5" y1="590.31" x2="393.7" y2="590.31" stroke="#b3b3b3" stroke-width="0.9"/>
<text x="389.8" y="595.09" font-size="8.4" text-anchor="end" fill="#141414" font-weight="normal">NUCB1</text>
<line x1="390.5" y1="597.51" x2="393.7" y2="597.51" stroke="#b3b3b3" stroke-width="0.9"/>
<text x="389.8" y="602.36" font-size="8.4" text-anchor="end" fill="#141414" font-weight="normal">ITIH1</text>
<line x1="390.5" y1="604.72" x2="393.7" y2="604.72" stroke="#b3b3b3" stroke-width="0.9"/>
<text x="389.8" y="609.63" font-size="8.4" text-anchor="end" fill="#141414" font-weight="normal">H2AC11</text>
<line x1="390.5" y1="611.93" x2="393.7" y2="611.93" stroke="#b3b3b3" stroke-width="0.9"/>
<text x="389.8" y="616.91" font-size="8.4" text-anchor="end" fill="#141414" font-weight="normal">ATF1</text>
<line x1="390.5" y1="619.13" x2="393.7" y2="619.13" stroke="#b3b3b3" stroke-width="0.9"/>
<text x="389.8" y="624.18" font-size="8.4" text-anchor="end" fill="#141414" font-weight="normal">ZNF10</text>
<line x1="390.5" y1="626.34" x2="393.7" y2="626.34" stroke="#b3b3b3" stroke-width="0.9"/>
<text x="389.8" y="631.45" font-size="8.4" text-anchor="end" fill="#141414" font-weight="normal">OAS1</text>
<line x1="390.5" y1="633.54" x2="393.7" y2="633.54" stroke="#b3b3b3" stroke-width="0.9"/>
<text x="389.8" y="638.73" font-size="8.4" text-anchor="end" fill="#141414" font-weight="normal">FATE1</text>
<line x1="406.6" y1="637.4" x2="406.6" y2="639.9" stroke="#b3b3b3" stroke-width="0.9"/>
<text x="406.6" y="651.9" font-size="10.7" text-anchor="middle" fill="#1a1a1a" font-weight="normal">0</text>
<line x1="503.05" y1="637.4" x2="503.05" y2="639.9" stroke="#b3b3b3" stroke-width="0.9"/>
<text x="503.6" y="651.9" font-size="10.7" text-anchor="middle" fill="#1a1a1a" font-weight="normal">5</text>
<line x1="599.5" y1="637.4" x2="599.5" y2="639.9" stroke="#b3b3b3" stroke-width="0.9"/>
<text x="600.4" y="651.9" font-size="10.7" text-anchor="middle" fill="#1a1a1a" font-weight="normal">10</text>
<text x="546.5" y="668.8" font-size="10.75" text-anchor="middle" fill="#000" font-weight="normal">Importance</text>
<text x="374.6" y="255.8" font-size="16" text-anchor="start" fill="#000" font-weight="bold">d</text>
</svg>
</body></html>
